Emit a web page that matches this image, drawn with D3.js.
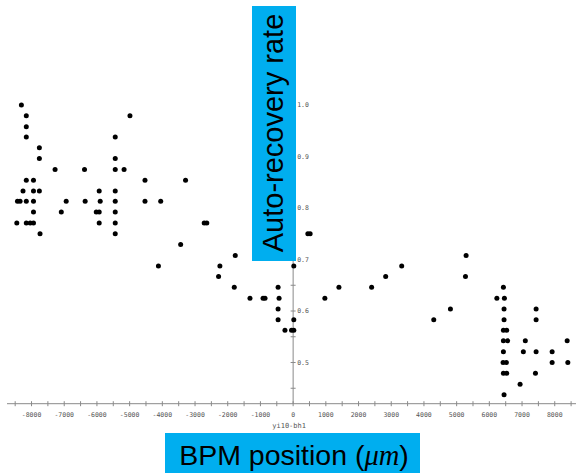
<!DOCTYPE html>
<html>
<head>
<meta charset="utf-8">
<script src="https://cdn.jsdelivr.net/npm/d3@7"></script>
<style>
  html, body { margin: 0; padding: 0; background: #fff; }
  svg { display: block; }
</style>
</head>
<body>
<svg id="chart" width="576" height="473"></svg>
<script>
// BPM position (um) and auto-recovery rate, one row per rate level
const bpmPosition = [
  -8310,
  -8160, -4990,
  -8160,
  -8160, -5440,
  -7760,
  -7760, -5440,
  -7280, -6380, -5440, -5170,
  -8160, -7940, -4530, -3290,
  -8260, -7940, -7760, -5930, -5440,
  -8430, -8350, -8160, -7940, -6940, -6360, -5900, -5440, -4530, -4050,
  -7940, -7090, -6020, -5930, -5440,
  -8450, -8160, -8040, -7940, -5930, -5440, -2720, -2640,
  -7740, -5440, 450, 520,
  -3440,
  -1770, 5290,
  -4120, -2240, 20, 3320,
  -2280, 2830, 5270,
  -1800, -460, 1400, 2400, 6430,
  -1320, -920, -860, -430, 970, 6230, 6460,
  -460, 4810, 6450, 7430,
  -460, 20, 4300, 6450, 7430,
  -250, -50, 20, 6430, 6530,
  6430, 6560, 7100, 8380,
  6430, 7040, 7430, 7920,
  6420, 6520, 7920, 8400,
  6430, 6530, 7410,
  6940,
  6450
];
const recoveryRate = [
  1.000,
  0.979, 0.979,
  0.958,
  0.938, 0.938,
  0.917,
  0.896, 0.896,
  0.875, 0.875, 0.875, 0.875,
  0.854, 0.854, 0.854, 0.854,
  0.833, 0.833, 0.833, 0.833, 0.833,
  0.813, 0.813, 0.813, 0.813, 0.813, 0.813, 0.813, 0.813, 0.813, 0.813,
  0.792, 0.792, 0.792, 0.792, 0.792,
  0.771, 0.771, 0.771, 0.771, 0.771, 0.771, 0.771, 0.771,
  0.750, 0.750, 0.750, 0.750,
  0.729,
  0.708, 0.708,
  0.6875, 0.6875, 0.6875, 0.6875,
  0.667, 0.667, 0.667,
  0.646, 0.646, 0.646, 0.646, 0.646,
  0.625, 0.625, 0.625, 0.625, 0.625, 0.625, 0.625,
  0.604, 0.604, 0.604, 0.604,
  0.583, 0.583, 0.583, 0.583, 0.583,
  0.5625, 0.5625, 0.5625, 0.5625, 0.5625,
  0.542, 0.542, 0.542, 0.542,
  0.521, 0.521, 0.521, 0.521,
  0.500, 0.500, 0.500, 0.500,
  0.479, 0.479, 0.479,
  0.458,
  0.4375
];
const xTickLabels = [-8000, -7000, -6000, -5000, -4000, -3000, -2000, -1000, 0,
                     1000, 2000, 3000, 4000, 5000, 6000, 7000, 8000];
const yTickLabels = [0.5, 0.6, 0.7, 0.8, 0.9, 1.0];
const xMinorTicks = d3.range(-8500, 8501, 500);
const yMinorTicks = d3.range(0.45, 1.001, 0.05);

const svg = d3.select("#chart");
const x = d3.scaleLinear().domain([-8750, 8650]).range([7, 576]);
const y = d3.scaleLinear().domain([0.42, 1.0]).range([403.7, 105]);

const axisColor = "#8a8a8a";
const labelFont = "'DejaVu Sans Mono', monospace";

// axes crossing at (0, 0.42)
const axes = svg.append("g");
axes.append("line")
  .attr("x1", x(-8750)).attr("x2", x(8650))
  .attr("y1", y(0.42)).attr("y2", y(0.42))
  .attr("stroke", axisColor).attr("stroke-width", 1);
axes.append("line")
  .attr("x1", x(0)).attr("x2", x(0))
  .attr("y1", y(0.42)).attr("y2", y(1.01))
  .attr("stroke", axisColor).attr("stroke-width", 1);

axes.selectAll(".xt").data(xMinorTicks).join("line")
  .attr("x1", d => x(d)).attr("x2", d => x(d))
  .attr("y1", y(0.42) - 2.5).attr("y2", y(0.42) + 2.5)
  .attr("stroke", axisColor);
axes.selectAll(".yt").data(yMinorTicks).join("line")
  .attr("x1", x(0) - 2.5).attr("x2", x(0) + 2.5)
  .attr("y1", d => y(d)).attr("y2", d => y(d))
  .attr("stroke", axisColor);

axes.selectAll(".xl").data(xTickLabels).join("text")
  .attr("x", d => x(d)).attr("y", y(0.42) + 13)
  .attr("text-anchor", "middle")
  .attr("font-family", labelFont).attr("font-size", 6.5)
  .attr("fill", "#555")
  .text(d => d);
axes.selectAll(".yl").data(yTickLabels).join("text")
  .attr("x", x(0) + 4).attr("y", d => y(d) + 2.3)
  .attr("font-family", labelFont).attr("font-size", 6.5)
  .attr("fill", "#555")
  .text(d => d.toFixed(1));

axes.append("text")
  .attr("x", x(0) - 4).attr("y", 428)
  .attr("text-anchor", "middle")
  .attr("font-family", labelFont).attr("font-size", 7)
  .attr("fill", "#555")
  .text("yi10-bh1");

// data points
svg.append("g").selectAll("circle")
  .data(bpmPosition.map((v, i) => [v, recoveryRate[i]]))
  .join("circle")
  .attr("cx", d => x(d[0]))
  .attr("cy", d => y(d[1]))
  .attr("r", 2.5)
  .attr("fill", "#000");

// axis titles on blue panels
const blue = "#00aeef";
svg.append("rect").attr("x", 252).attr("y", 6).attr("width", 44).attr("height", 255).attr("fill", blue);
svg.append("text")
  .attr("transform", "translate(283,133) rotate(-90)")
  .attr("text-anchor", "middle")
  .attr("font-family", "'Liberation Sans', Arial, sans-serif")
  .attr("font-size", 29)
  .attr("fill", "#000")
  .text("Auto-recovery rate");

svg.append("rect").attr("x", 165).attr("y", 433).attr("width", 255).attr("height", 40).attr("fill", blue);
const xt = svg.append("text")
  .attr("x", 294).attr("y", 465)
  .attr("text-anchor", "middle")
  .attr("font-family", "'Liberation Sans', Arial, sans-serif")
  .attr("font-size", 28.5)
  .attr("fill", "#000");
xt.append("tspan").text("BPM position (");
xt.append("tspan").attr("font-family", "'Liberation Serif', serif").attr("font-style", "italic").text("μm");
xt.append("tspan").text(")");
</script>
</body>
</html>
